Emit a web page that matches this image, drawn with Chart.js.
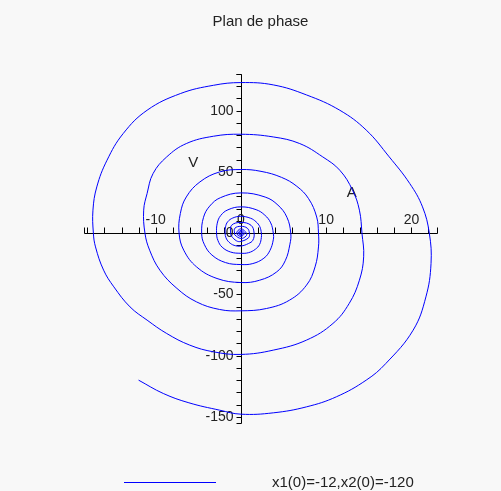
<!DOCTYPE html>
<html>
<head>
<meta charset="utf-8">
<title>Plan de phase</title>
<script src="https://cdn.jsdelivr.net/npm/chart.js@4.4.1/dist/chart.umd.min.js"></script>
<style>
  html, body { margin: 0; padding: 0; background: #f8f8f8; }
  #wrap { width: 501px; height: 491px; }
</style>
</head>
<body>
<div id="wrap"><canvas id="phase" width="501" height="491"></canvas></div>
<script>
// trajectory in the (x1, x2) plane, one line per turn, starting from x1(0)=-12, x2(0)=-120
const x1 = [
  -12, -9.1, -6.1, -2.5, 0, 3.8, 7.7, 11.2, 14.7, 17.0, 20.2, 21.7, 22.3, 22.1, 21.3, 19.8, 17.4, 14.7, 11.6, 7.7, 3.8, 0, -3.2, -7.1, -11.0, -13.8, -15.7, -16.9, -17.35, -17.3,
  -17.05, -16.1, -14.9, -13.0, -11.0, -8.7, -6.0, -3.2, 0, 3.8, 7.7, 10.8, 12.7, 13.9, 14.4, 14.2, 13.9, 13.1, 11.6, 9.6, 6.9, 3.8, 0, -3.2, -6.4, -8.7, -10.3, -11.0, -11.4, -11.25,
  -10.7, -9.5, -7.5, -5.2, -2.5, 0, 3.0, 5.7, 7.7, 8.7, 9.1, 9.1, 8.89, 7.94, 6.56, 4.76, 2.36, 0, -2.5, -4.8, -6.4, -7.1, -7.25,
  -6.7, -5.2, -2.8, 0, 2.2, 4.2, 5.2, 5.75, 5.85, 5.4, 4.35, 2.85, 0, -2.4, -3.66, -4.38, -4.6,
  -4.3, -3.4, -1.8, 0, 1.4, 2.7, 3.4, 3.8, 3.8, 3.5, 2.81, 1.79, 0, -1.52, -2.37, -2.77, -2.85,
  -2.7, -2.2, -1.2, 0, 0.9, 1.7, 2.2, 2.4, 2.4, 2.22, 1.78, 1.14, 0, -0.95, -1.55, -1.8, -1.85,
  -1.75, -1.4, -0.8, 0, 0.9, 1.4, 1.55, 1.2, 0, -1.1, -1.2,
  -1.1, -0.5, 0, 0.9, 1.0, 0.75, 0, -0.7, -0.75,
  -0.7, 0, 0.6, 0.65, 0, -0.5,
  0, 0.4, 0, -0.3, 0, 0.25, 0, -0.2, 0, 0.15, 0, 0
];
const x2 = [
  -120, -130.9, -138.5, -144.5, -147.8, -146.7, -141.8, -133.6, -120, -106.4, -79.2, -52.0, -24.7, 0, 21.5, 40.6, 62.3, 84.2, 100.4, 112.9, 121.1, 123, 120.8, 114, 100.4, 81.4, 59.6, 37.8, 18.8, 0,
  -11.2, -30.2, -43.8, -60.2, -71, -81.9, -91.4, -96.9, -99, -95.5, -87.3, -73.7, -57.4, -38.4, -19.3, 0, 18.8, 35.1, 51.4, 62.3, 73.2, 78.6, 80.8, 79.2, 73.2, 62.3, 48.7, 32.4, 18.8, 0,
  -13.9, -30.2, -45.1, -56.1, -62.3, -63.4, -61.5, -54.7, -42.4, -27.5, -11.2, 0, 13.2, 28.2, 38.3, 45.6, 50.5, 52, 50, 41.9, 29.6, 16.1, 0,
  -13.9, -27.5, -37, -40.3, -38.4, -31.6, -22.5, -9, 0, 13.0, 22.9, 29.5, 32.9, 29.0, 22.1, 13.0, 0,
  -9, -17.8, -24, -25.6, -24.8, -20.4, -14.2, -5.4, 0, 8.4, 14.7, 19.2, 21.5, 19.1, 14.4, 8.2, 0,
  -5.8, -11.4, -15.4, -16.4, -15.9, -13.1, -9.1, -3.5, 0, 5.3, 9.3, 12.2, 13.8, 12.4, 9.3, 5.2, 0,
  -3.7, -7.3, -9.9, -10.5, -8.4, -5.8, 0, 6.4, 8.8, 6.4, 0,
  -2.4, -6.3, -6.7, -3.7, 0, 4.1, 5.6, 4.1, 0,
  -1.5, -4.3, -2.4, 0, 3.6, 0,
  -2.7, 0, 2.3, 0, -1.7, 0, 1.4, 0, -1, 0, 0.8, 0
];

const xRange = [-18.4, 23];
const yRange = [-155, 130];
const xLabels = [-10, 0, 10, 20];
const yLabels = [-150, -100, -50, 0, 50, 100];
const xTickStep = 2;
const yTickStep = 10;
const notes = [
  { text: 'V', x: -5.6, y: 57.6 },
  { text: 'A', x: 13.0, y: 32.7 }
];
const seriesLabel = 'x1(0)=-12,x2(0)=-120';

const FONT = '"Liberation Sans", Arial, Helvetica, sans-serif';
const BLUE = '#0000ff';
const INK = '#222222';

Chart.defaults.font.family = FONT;

// axes crossing at the origin, like a maple plot
const phaseAxes = {
  id: 'phaseAxes',
  beforeDraw(chart) {
    const ctx = chart.ctx;
    ctx.save();
    ctx.fillStyle = '#f8f8f8';
    ctx.fillRect(0, 0, chart.width, chart.height);
    ctx.restore();
  },
  beforeDatasetsDraw(chart) {
    const { ctx, chartArea: area } = chart;
    const sx = chart.scales.x, sy = chart.scales.y;
    const px = v => Math.round(sx.getPixelForValue(v)) + 0.5;
    const py = v => Math.round(sy.getPixelForValue(v)) + 0.5;
    const x0 = px(0), y0 = py(0);

    ctx.save();
    ctx.strokeStyle = '#000';
    ctx.lineWidth = 1;
    ctx.beginPath();
    ctx.moveTo(Math.round(area.left) + 0.5, y0);
    ctx.lineTo(Math.round(area.right) + 0.5, y0);
    ctx.moveTo(x0, Math.round(area.top) + 0.5);
    ctx.lineTo(x0, Math.round(area.bottom) + 0.5);

    // x ticks point up, y ticks point left
    const xt = [xRange[0], xRange[1]];
    for (let v = Math.ceil(xRange[0] / xTickStep) * xTickStep; v <= xRange[1]; v += xTickStep) xt.push(v);
    xt.forEach(v => { ctx.moveTo(px(v), y0); ctx.lineTo(px(v), y0 - 6); });
    const yt = [yRange[0], yRange[1]];
    for (let v = Math.ceil(yRange[0] / yTickStep) * yTickStep; v <= yRange[1]; v += yTickStep) yt.push(v);
    yt.forEach(v => { ctx.moveTo(x0, py(v)); ctx.lineTo(x0 - 5, py(v)); });
    ctx.stroke();

    ctx.fillStyle = INK;
    ctx.font = '14px ' + FONT;
    ctx.textAlign = 'center';
    ctx.textBaseline = 'alphabetic';
    xLabels.forEach(v => ctx.fillText(String(v), sx.getPixelForValue(v), y0 - 10));
    ctx.textAlign = 'right';
    ctx.textBaseline = 'middle';
    yLabels.forEach(v => ctx.fillText(String(v), x0 - 8, sy.getPixelForValue(v)));

    ctx.font = '15px ' + FONT;
    ctx.textAlign = 'center';
    notes.forEach(n => ctx.fillText(n.text, sx.getPixelForValue(n.x), sy.getPixelForValue(n.y)));
    ctx.restore();
  },
  afterDraw(chart) {
    // legend: line sample then label
    const ctx = chart.ctx;
    ctx.save();
    ctx.strokeStyle = BLUE;
    ctx.lineWidth = 1;
    ctx.beginPath();
    ctx.moveTo(124, 482.5);
    ctx.lineTo(216, 482.5);
    ctx.stroke();
    ctx.fillStyle = INK;
    ctx.font = '15px ' + FONT;
    ctx.textAlign = 'left';
    ctx.textBaseline = 'middle';
    ctx.fillText(seriesLabel, 272, 483);
    ctx.restore();
  }
};

new Chart(document.getElementById('phase'), {
  type: 'scatter',
  data: {
    datasets: [{
      label: seriesLabel,
      data: x1.map((v, i) => ({ x: v, y: x2[i] })),
      showLine: true,
      borderColor: BLUE,
      borderWidth: 1,
      pointRadius: 0,
      tension: 0.4,
      fill: false
    }]
  },
  options: {
    responsive: false,
    animation: false,
    layout: { padding: { left: 84, right: 64, top: 0, bottom: 68 } },
    scales: {
      x: { type: 'linear', min: xRange[0], max: xRange[1], display: false },
      y: { type: 'linear', min: yRange[0], max: yRange[1], display: false }
    },
    plugins: {
      legend: { display: false },
      tooltip: { enabled: false },
      title: {
        display: true,
        text: 'Plan de phase',
        color: INK,
        font: { size: 15, weight: 'normal' },
        padding: { top: 13, bottom: 43 }
      }
    }
  },
  plugins: [phaseAxes]
});
</script>
</body>
</html>
